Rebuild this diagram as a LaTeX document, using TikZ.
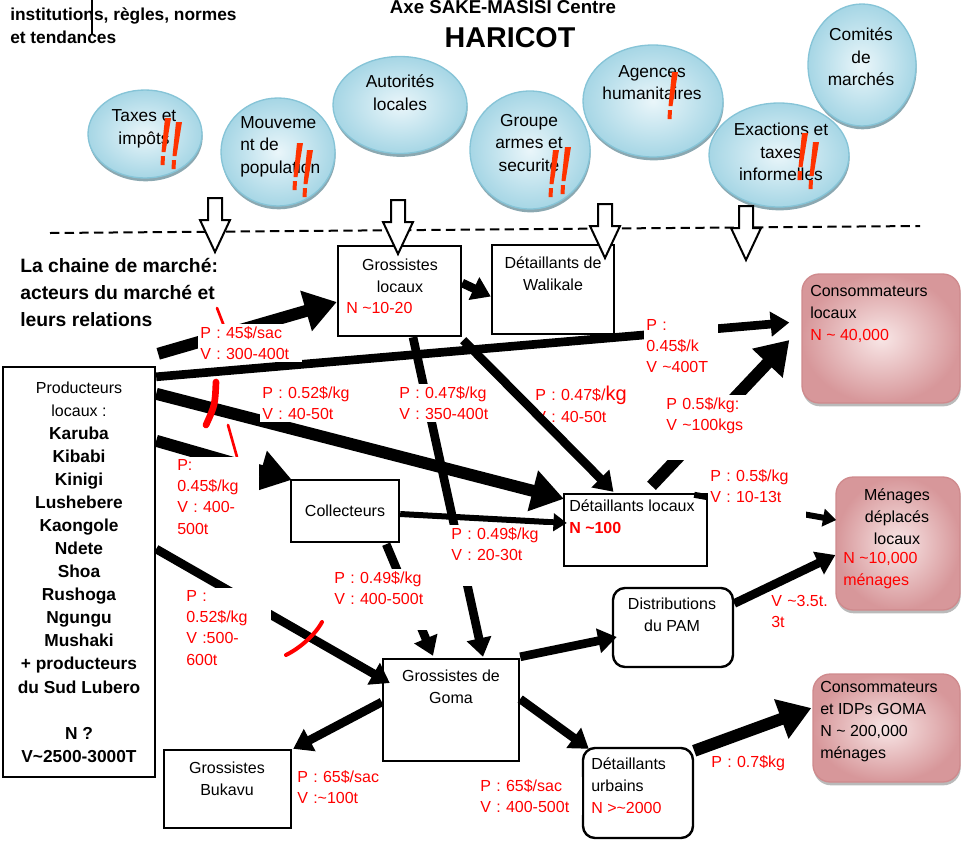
\documentclass[tikz,border=0pt]{standalone}
\usepackage{fontspec}
\setmainfont{Liberation Sans}
\usetikzlibrary{arrows.meta,shapes.geometric,shadows}
\definecolor{bulleclair}{HTML}{EAF6FA}
\definecolor{bullefonce}{HTML}{A6D6E5}
\definecolor{bullebord}{HTML}{86C4D7}
\definecolor{bulleombre}{HTML}{7E9FA9}
\definecolor{roseclair}{HTML}{F8E6E6}
\definecolor{rosefonce}{HTML}{D7979A}
\definecolor{rosebord}{HTML}{CF8A8D}
\definecolor{alerte}{HTML}{FF3300}

\begin{document}
\begin{tikzpicture}[x=0.75pt,y=-0.75pt]
        \tikzstyle{txt}=[inner sep=0pt, align=center, font=\fontsize{12}{16.5}\selectfont]
        \tikzstyle{txtb}=[inner sep=0pt, align=center, font=\fontsize{13}{17}\selectfont]
        \tikzstyle{bulle}=[ellipse, draw=bullebord, line width=1pt, inner color=bulleclair, outer color=bullefonce,
          drop shadow={shadow xshift=0.5pt, shadow yshift=-2.5pt, fill=bulleombre, opacity=0.9}]
        \tikzstyle{boite}=[draw, line width=1.8pt, fill=white, inner sep=0pt]
        \tikzstyle{arrondi}=[boite, rounded corners=9pt]
        \tikzstyle{rose}=[draw=rosebord, line width=1pt, rounded corners=13pt, inner color=roseclair, outer color=rosefonce,
          drop shadow={shadow xshift=0.5pt, shadow yshift=-2.5pt, fill=black!45, opacity=0.6}]
        \tikzstyle{prix}=[inner sep=1.5pt, anchor=north west, align=left, text=red, fill=white, text width=75pt,
          font=\fontsize{12}{16}\selectfont]
        \tikzstyle{gros}=[line width=9pt, -{Triangle[length=24pt,width=30pt]}]
        \tikzstyle{moyen}=[line width=6.5pt, -{Triangle[length=14pt,width=18pt]}]
        \tikzstyle{fin}=[line width=4.5pt, -{Triangle[length=10pt,width=13pt]}]
        \tikzstyle{creux}=[draw, line width=1.5pt, fill=white]
        \tikzstyle{bang}=[fill=alerte]
        \tikzstyle{coupe}=[draw=red, line cap=round]

        \useasboundingbox (0,0) rectangle (961,840);

        % titres
        \node[font=\fontsize{14}{17}\selectfont\bfseries, inner sep=0pt] (axe) at (503,7) {Axe SAKE-MASISI Centre};
        \node[font=\fontsize{21.5}{26}\selectfont\bfseries, inner sep=0pt] (haricot) at (510,38) {HARICOT};
        \node[inner sep=0pt, align=left, anchor=west, font=\fontsize{13}{17.3}\selectfont\bfseries] (inst) at (10,25.5)
          {institutions, règles, normes\\et tendances};
        \draw[line width=1pt] (92,0) -- (92,35);

        % institutions
        \node[bulle, minimum width=85.5pt, minimum height=66pt] (taxes) at (145,134) {};
        \node[txtb] (taxest) at (144,129) {Taxes et\\impôts};
        \node[bulle, minimum width=85.5pt, minimum height=81pt] (mouv) at (278,152) {};
        \node[txtb, align=left, anchor=west] (mouvt) at (240,146.5) {Mouveme\\nt de\\population};
        \node[bulle, minimum width=100.5pt, minimum height=72.75pt] (auto) at (400,105) {};
        \node[txtb] (autot) at (400,93) {Autorités\\locales};
        \node[bulle, minimum width=90pt, minimum height=88.5pt] (groupe) at (530,150) {};
        \node[txtb] (groupet) at (529,143) {Groupe\\armes et\\securite};
        \node[bulle, minimum width=105pt, minimum height=84pt] (agences) at (653,101) {};
        \node[txtb] (agencest) at (652,82.5) {Agences\\humanitaires};
        \node[bulle, minimum width=105pt, minimum height=78pt] (exac) at (779,155) {};
        \node[txtb] (exact) at (781,152) {Exactions et\\taxes\\informelles};
        \node[bulle, minimum width=81pt, minimum height=91.5pt] (comites) at (862,65) {};
        \node[txtb] (comitest) at (861,57) {Comités\\de\\marchés};

        \foreach \x/\y in {168/118, 179/122, 300/143, 310/150, 556/150, 568/147, 675/72, 805/133, 816/142} {
          \fill[bang] (\x-3,\y) -- (\x+3,\y) -- (\x-2.5,\y+34) -- (\x-6.5,\y+34) -- cycle;
          \fill[bang] (\x-7,\y+38) -- (\x-3,\y+38) -- (\x-3.5,\y+47) -- (\x-7.5,\y+47) -- cycle;
        }

        \draw[line width=1.5pt, dash pattern=on 7pt off 4pt] (50,233) -- (920,226);

        \node[inner sep=0pt, align=left, anchor=west, font=\fontsize{14.5}{20}\selectfont\bfseries] (chaine) at (20,292.5)
          {La chaine de marché:\\acteurs du marché et\\leurs relations};

        % acteurs
        \node[boite, minimum width=114pt, minimum height=307.5pt, align=center,
          font=\fontsize{13}{17.3}\selectfont\bfseries] (prod) at (79,572)
          {{\mdseries\fontsize{12}{16}\selectfont Producteurs}\\{\mdseries\fontsize{12}{16}\selectfont locaux :}\\Karuba\\Kibabi\\Kinigi\\Lushebere\\Kaongole\\Ndete\\Shoa\\Rushoga\\Ngungu\\Mushaki\\+ producteurs\\du Sud Lubero\\[17.3pt]N ?\\V\textasciitilde2500-3000T};
        \node[boite, minimum width=92.25pt, minimum height=67.5pt] (gl) at (399.5,291) {};
        \node[txt] (glt) at (400,275.5) {Grossistes\\locaux};
        \node[txt, anchor=west, text=red] (gln) at (346,308) {N \textasciitilde10-20};
        \node[boite, minimum width=91.5pt, minimum height=66.75pt] (walik) at (553,289.5) {};
        \node[txt] (walikt) at (553,273.5) {Détaillants de\\Walikale};
        \node[rose, minimum width=118.5pt, minimum height=96.75pt] (conso) at (881,338.5) {};
        \node[txt, align=left, anchor=west] (consot) at (810,314) {Consommateurs\\locaux\\\textcolor{red}{N \textasciitilde{} 40,000}};
        \node[boite, txt, minimum width=81pt, minimum height=46.5pt] (coll) at (345,511) {Collecteurs};
        \node[boite, minimum width=107.25pt, minimum height=54pt] (dl) at (635.5,530) {};
        \node[txt, align=left, anchor=west] (dlt) at (569,517) {Détaillants locaux\\\textcolor{red}{\bfseries N \textasciitilde100}};
        \node[rose, minimum width=93pt, minimum height=99.75pt] (men) at (898,543.5) {};
        \node[txt] (ment) at (897,516.5) {Ménages\\déplacés\\locaux};
        \node[txt, align=left, anchor=west, text=red] (menn) at (843,570.5) {N \textasciitilde10,000\\ménages};
        \node[arrondi, minimum width=90pt, minimum height=59.25pt] (pam) at (673,627.5) {};
        \node[txt] (pamt) at (672,615) {Distributions\\du PAM};
        \node[boite, minimum width=102pt, minimum height=76.5pt] (goma) at (451,710) {};
        \node[txt] (gomat) at (451,687) {Grossistes de\\Goma};
        \node[boite, minimum width=95.25pt, minimum height=58.5pt] (buk) at (227.5,789) {};
        \node[txt] (bukt) at (227,778.5) {Grossistes\\Bukavu};
        \node[arrondi, minimum width=82.5pt, minimum height=67.5pt] (urb) at (638,793) {};
        \node[txt, align=left, anchor=west] (urbt) at (591,785.5) {Détaillants\\urbains\\\textcolor{red}{N >\textasciitilde2000}};
        \node[rose, minimum width=110.25pt, minimum height=81pt] (idp) at (886.5,728) {};
        \node[txt, align=left, anchor=west] (idpt) at (820,722) {Consommateurs\\et IDPs GOMA\\N \textasciitilde{} 200,000\\ménages};

        \node[prix, fill=none, text width=80pt] (p4) at (533,384) {P : 0.47\$/{\fontsize{15}{16}\selectfont kg}\\V : 40-50t};

        % flux
        \draw[gros] ([shift={(2,-12)}]prod.north east) -- ([shift={(0,11)}]gl.west);
        \draw[moyen] ([shift={(0,11)}]prod.north east) -- ([shift={(-12,-16)}]conso.west);
        \draw[gros] ([shift={(0,28)}]prod.north east) -- ([shift={(1,6)}]dl.north west);
        \draw[gros] ([shift={(0,75)}]prod.north east) -- ([shift={(2,1)}]coll.north west);
        \draw[moyen] ([shift={(0,-23)}]prod.east) -- ([shift={(8,-27)}]goma.west);
        \draw[moyen] ([shift={(0,-8)}]gl.east) -- ([shift={(0,7)}]walik.west);
        \draw[moyen] ([shift={(13.5,0)}]gl.south) -- ([shift={(32,-1)}]goma.north);
        \draw[moyen] ([shift={(1,3)}]gl.south east) -- ([shift={(-22,-1)}]dl.north);
        \draw[fin] ([shift={(0,3)}]coll.east) -- ([shift={(4,-7)}]dl.west);
        \draw[moyen] ([shift={(-14,1)}]coll.south east) -- ([shift={(-18,-2)}]goma.north);
        \draw[gros] ([shift={(16,-7)}]dl.north) -- ([shift={(-12,1.5)}]conso.west);
        \draw[fin] ([shift={(-14,2)}]dl.north east) -- ([shift={(1,-23.5)}]men.west);
        \draw[moyen] ([shift={(0,-24)}]pam.east) -- ([shift={(0,11.5)}]men.west);
        \draw[moyen] ([shift={(0,-1)}]goma.north east) -- ([shift={(5,9.5)}]pam.west);
        \draw[moyen] ([shift={(0,-11)}]goma.east) -- ([shift={(7,2)}]urb.north west);
        \draw[moyen] ([shift={(0,-8)}]goma.west) -- ([shift={(1,0)}]buk.north east);
        \draw[gros] ([shift={(0,4)}]urb.north east) -- ([shift={(-1,-20)}]idp.west);

        % influences
        \foreach \x/\y in {215/198, 398/200, 605/204, 746/206}
          \draw[creux] (\x-7,\y) -- (\x+7,\y) -- (\x+7,\y+22) -- (\x+15,\y+22) -- (\x,\y+54)
            -- (\x-15,\y+22) -- (\x-7,\y+22) -- cycle;

        % coupures
        \draw[coupe, line width=2pt] (217,308) -- (224,326);
        \draw[coupe, line width=5pt] (216,382) .. controls (215,405) .. (206,425);
        \draw[coupe, line width=2pt] (228,425) -- (237,457);
        \draw[coupe, line width=3pt] (286,655) .. controls (300,648) and (315,635) .. (322,622);

        % prix et volumes
        \node[prix] (p1) at (198,324) {P : 45\$/sac\\V : 300-400t};
        \node[prix, text width=72pt] (p2) at (260,384) {P : 0.52\$/kg\\V : 40-50t};
        \node[prix] (p3) at (397,384) {P : 0.47\$/kg\\V : 350-400t};
        \node[prix, text width=52pt] (p5) at (644,317) {P :\\0.45\$/k\\V \textasciitilde400T};
        \node[prix, text width=80pt, text depth=37pt] (p6) at (664,395) {P 0.5\$/kg:\\V \textasciitilde100kgs};
        \node[prix, text width=60pt] (p7) at (175,457) {P:\\0.45\$/kg\\V : 400-\\500t};
        \node[prix, text width=70pt, text depth=28pt] (p8) at (708,467) {P : 0.5\$/kg\\V : 10-13t};
        \node[prix, text depth=34pt] (p9) at (449,525) {P : 0.49\$/kg\\V : 20-30t};
        \node[prix, text depth=34pt] (p10) at (332,569) {P : 0.49\$/kg\\V : 400-500t};
        \node[prix, text width=62pt] (p11) at (184,588) {P :\\0.52\$/kg\\V :500-\\600t};
        \node[prix, fill=none, text width=56pt] (p12) at (769,593) {V \textasciitilde3.5t.\\3t};
        \node[prix] (p13) at (295,768) {P : 65\$/sac\\V :\textasciitilde100t};
        \node[prix] (p14) at (478,777) {P : 65\$/sac\\V : 400-500t};
        \node[prix, text width=70pt] (p15) at (709,753) {P : 0.7\$kg};
\end{tikzpicture}
\end{document}
